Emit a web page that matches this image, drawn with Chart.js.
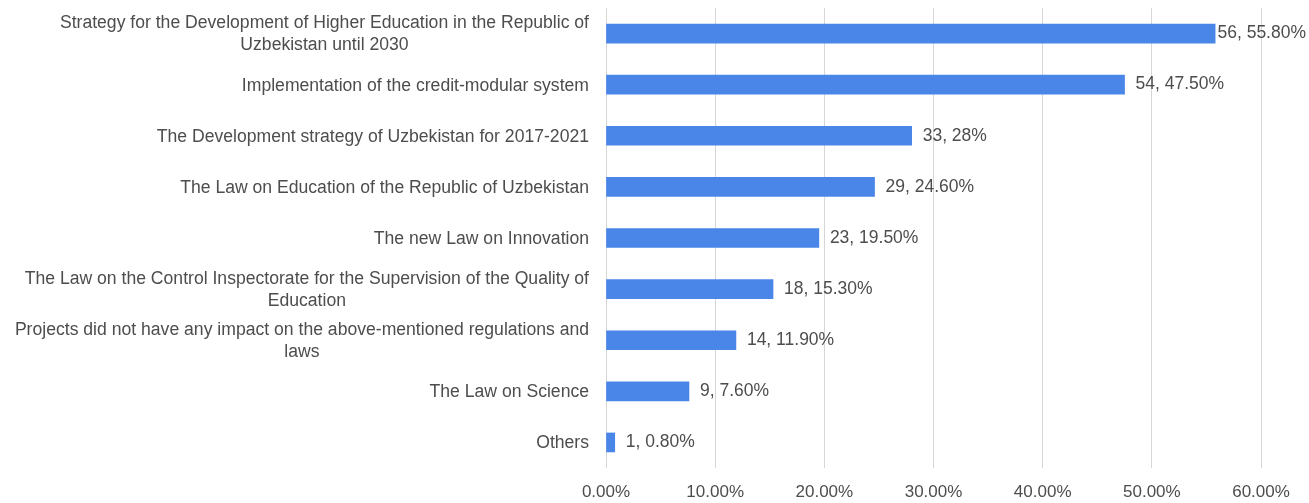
<!DOCTYPE html>
<html>
<head>
<meta charset="utf-8">
<script src="https://cdn.jsdelivr.net/npm/chart.js@4.4.1/dist/chart.umd.min.js"></script>
<style>
  html, body { margin: 0; padding: 0; background: #ffffff; }
  #wrap { width: 1309px; height: 503px; }
</style>
</head>
<body>
<div id="wrap"><canvas id="chart" width="1309" height="503"></canvas></div>
<script>
// Survey: which regulations and laws the projects had an impact on
const categories = [
  ["Strategy for the Development of Higher Education in the Republic of", "Uzbekistan until 2030"],
  ["Implementation of the credit-modular system"],
  ["The Development strategy of Uzbekistan for 2017-2021"],
  ["The Law on Education of the Republic of Uzbekistan"],
  ["The new Law on Innovation"],
  ["The Law on the Control Inspectorate for the Supervision of the Quality of", "Education"],
  ["Projects did not have any impact on the above-mentioned regulations and", "laws"],
  ["The Law on Science"],
  ["Others"]
];
const respondents = [56, 54, 33, 29, 23, 18, 14, 9, 1];
const shares = [55.8, 47.5, 28, 24.6, 19.5, 15.3, 11.9, 7.6, 0.8];
const shareLabels = ["55.80%", "47.50%", "28%", "24.60%", "19.50%", "15.30%", "11.90%", "7.60%", "0.80%"];
const tickLabels = ["0.00%", "10.00%", "20.00%", "30.00%", "40.00%", "50.00%", "60.00%"];

const FONT = "'Liberation Sans', Arial, Helvetica, sans-serif";
const TEXT_COLOR = "#4d4d4d";

// Category names: block right-aligned against the plot, lines centred within the block
const categoryLabels = {
  id: "categoryLabels",
  afterDraw(chart) {
    const ctx = chart.ctx;
    const y = chart.scales.y;
    const right = chart.chartArea.left - 17;
    const lineH = 22;
    ctx.save();
    ctx.font = "17.6px " + FONT;
    ctx.fillStyle = TEXT_COLOR;
    ctx.textAlign = "center";
    ctx.textBaseline = "middle";
    categories.forEach((lines, i) => {
      const cy = y.getPixelForValue(i) + 1;
      const maxW = Math.max(...lines.map(l => ctx.measureText(l).width));
      const cx = right - maxW / 2;
      lines.forEach((l, j) => {
        ctx.fillText(l, cx, cy + (j - (lines.length - 1) / 2) * lineH);
      });
    });
    ctx.restore();
  }
};

// "count, share" labels at the end of each bar
const valueLabels = {
  id: "valueLabels",
  afterDatasetsDraw(chart) {
    const ctx = chart.ctx;
    const meta = chart.getDatasetMeta(0);
    ctx.save();
    ctx.font = "17.5px " + FONT;
    ctx.fillStyle = TEXT_COLOR;
    ctx.textAlign = "left";
    ctx.textBaseline = "middle";
    meta.data.forEach((bar, i) => {
      const text = respondents[i] + ", " + shareLabels[i];
      const w = ctx.measureText(text).width;
      const x = Math.min(bar.x + 11, chart.width - 3 - w);
      ctx.fillText(text, x, bar.y);
    });
    ctx.restore();
  }
};

new Chart(document.getElementById("chart"), {
  type: "bar",
  data: {
    labels: categories,
    datasets: [{
      data: shares,
      backgroundColor: "#4a86e8",
      borderWidth: 0,
      barThickness: 19
    }]
  },
  options: {
    indexAxis: "y",
    responsive: false,
    animation: false,
    layout: { padding: { top: 8, right: 48, bottom: 0, left: 0 } },
    plugins: {
      legend: { display: false },
      tooltip: { enabled: false }
    },
    scales: {
      x: {
        min: 0,
        max: 60,
        ticks: {
          stepSize: 10,
          padding: 14,
          color: TEXT_COLOR,
          font: { family: FONT, size: 17 },
          callback: (v, i) => tickLabels[i]
        },
        grid: { color: "#d6d6d6", lineWidth: 1, drawTicks: false },
        border: { display: false },
        afterFit: s => { s.height = 35; }
      },
      y: {
        ticks: { display: false },
        grid: { display: false },
        border: { display: false },
        afterFit: s => { s.width = 606; }
      }
    }
  },
  plugins: [categoryLabels, valueLabels]
});
</script>
</body>
</html>
